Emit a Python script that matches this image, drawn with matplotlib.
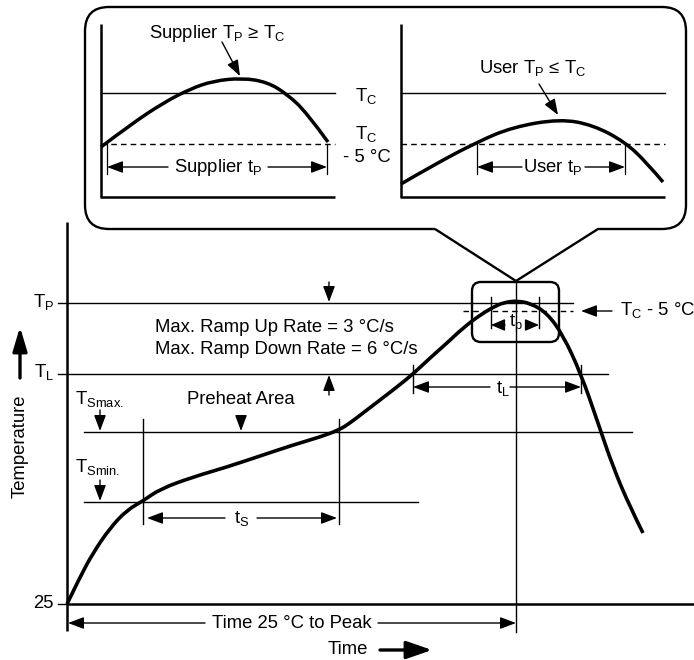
"""Reflow soldering profile diagram (classification temperature / peak)."""

import matplotlib.pyplot as plt
from matplotlib.path import Path
from matplotlib.patches import PathPatch, FancyBboxPatch

plt.rcParams['font.family'] = ['Liberation Sans', 'DejaVu Sans']
plt.rcParams['mathtext.fontset'] = 'custom'
plt.rcParams['mathtext.rm'] = 'Liberation Sans'
plt.rcParams['mathtext.default'] = 'regular'

# --- diagram data (canvas units, y grows downwards) ---
# main reflow profile
profile_t = [67, 80, 93, 110, 127, 143, 160, 193, 227, 260, 293, 320, 339, 350, 363, 397,
             413, 430, 447, 463, 480, 497, 507, 516, 530, 547, 563, 581, 597, 613, 630, 643]
profile_T = [604, 577, 553, 528, 510, 501, 489, 477, 467, 456, 445, 437, 430, 423, 413, 387,
             374, 358, 343, 328, 315, 305, 302, 301, 303, 313, 335, 374, 420, 467, 507, 533]

# levels of the main chart
T_25 = 604
T_P = 303
T_L = 374
TS_MAX = 432
TS_MIN = 502
TC_MINUS5 = 311
t_ts_start, t_ts_end = 143, 339
t_l_start, t_l_end = 413, 581
t_peak = 516
t_p_start, t_p_end = 491, 539

# inset curves (supplier / user)
supplier_t = [101, 130, 163, 190, 213, 242, 267, 287, 307, 328]
supplier_T = [147, 125, 103, 89, 81, 78, 82, 94, 113, 142]
user_t = [401, 430, 477, 513, 560, 593, 625, 647, 663]
user_T = [184, 167, 142, 127, 119, 125, 142, 163, 182]
inset_TC = 93
inset_TC5 = 144
inset_base = 197
supplier_tp = (107, 327)
user_tp = (477, 625)

FS = 13.3
K = 'black'


def arrow(ax, tail, head, lw=1.0, hl=0.8, hw=0.3):
    ax.annotate('', xy=head, xytext=tail,
                arrowprops=dict(arrowstyle=f'-|>,head_length={hl},head_width={hw}',
                                lw=lw, color=K, shrinkA=0, shrinkB=0, mutation_scale=12))


def dim_arrow(ax, x0, x1, y, gap0, gap1, lw=1.0):
    arrow(ax, (gap0, y), (x0, y), lw=lw)
    arrow(ax, (gap1, y), (x1, y), lw=lw)


def smooth_curve(ax, xs, ys, lw):
    """Quadratic B-spline path drawn through the read knots."""
    pts = list(zip(xs, ys))
    verts = [pts[0]]
    codes = [Path.MOVETO]
    for i in range(1, len(pts) - 1):
        nxt = pts[i + 1] if i == len(pts) - 2 else ((pts[i][0] + pts[i + 1][0]) / 2,
                                                     (pts[i][1] + pts[i + 1][1]) / 2)
        verts += [pts[i], nxt]
        codes += [Path.CURVE3, Path.CURVE3]
    ax.add_patch(PathPatch(Path(verts, codes), fc='none', ec=K, lw=lw, capstyle='butt'))


fig = plt.figure(figsize=(6.94, 6.6), dpi=100)
ax = fig.add_axes([0, 0, 1, 1])
ax.set_xlim(0, 694)
ax.set_ylim(660, 0)
ax.axis('off')

# ---------- callout bubble ----------
L, R, TOP, BOT, r = 85, 686, 7, 229, 24
verts = [(435, BOT), (L + r, BOT), (L, BOT), (L, BOT - r), (L, TOP + r), (L, TOP), (L + r, TOP),
         (R - r, TOP), (R, TOP), (R, TOP + r), (R, BOT - r), (R, BOT), (R - r, BOT),
         (598, BOT), (t_peak, 281), (435, BOT)]
codes = [Path.MOVETO, Path.LINETO, Path.CURVE3, Path.CURVE3, Path.LINETO, Path.CURVE3, Path.CURVE3,
         Path.LINETO, Path.CURVE3, Path.CURVE3, Path.LINETO, Path.CURVE3, Path.CURVE3,
         Path.LINETO, Path.LINETO, Path.LINETO]
ax.add_patch(PathPatch(Path(verts, codes), fc='none', ec=K, lw=1.7))

# inset axes
for x0, x1 in [(101, 335), (401, 665)]:
    ax.plot([x0, x0], [24, inset_base], color=K, lw=1.8, solid_capstyle='butt')
    ax.plot([x0 - 1, x1], [inset_base, inset_base], color=K, lw=1.8, solid_capstyle='butt')
    ax.plot([x0, x1], [inset_TC, inset_TC], color=K, lw=1.0)
    ax.plot([x0, x1], [inset_TC5, inset_TC5], color=K, lw=1.0, ls=(0, (4, 3)))

smooth_curve(ax, supplier_t, supplier_T, 2.5)
smooth_curve(ax, user_t, user_T, 2.5)

for (a, b) in [supplier_tp, user_tp]:
    for x in (a, b):
        ax.plot([x, x], [inset_TC5, 174], color=K, lw=0.9)
dim_arrow(ax, supplier_tp[0], supplier_tp[1], 167, 168, 268)
dim_arrow(ax, user_tp[0], user_tp[1], 167, 522, 585)
ax.text(218, 167, 'Supplier t$_P$', fontsize=FS, ha='center', va='center')
ax.text(553, 167, 'User t$_P$', fontsize=FS, ha='center', va='center')

ax.text(217, 34, 'Supplier T$_P$ ≥ T$_C$', fontsize=FS, ha='center', va='center')
arrow(ax, (222, 42), (240, 76))
ax.text(533, 68, 'User T$_P$ ≤ T$_C$', fontsize=FS, ha='center', va='center')
arrow(ax, (539, 84), (558, 115))

ax.text(366, 96, 'T$_C$', fontsize=FS, ha='center', va='center')
ax.text(366, 134, 'T$_C$', fontsize=FS, ha='center', va='center')
ax.text(367, 157, '- 5 °C', fontsize=FS, ha='center', va='center')

# ---------- main chart ----------
ax.plot([67, 67], [222, 631], color=K, lw=1.8, solid_capstyle='butt')
ax.plot([67, 694], [T_25, T_25], color=K, lw=1.8, solid_capstyle='butt')
ax.plot([58, 67], [T_25, T_25], color=K, lw=1.0)

ax.plot([58, 573], [T_P, T_P], color=K, lw=1.0)
ax.plot([58, 608], [T_L, T_L], color=K, lw=1.0)
ax.plot([84, 632], [TS_MAX, TS_MAX], color=K, lw=1.0)
ax.plot([84, 418], [TS_MIN, TS_MIN], color=K, lw=1.0)
ax.plot([463, 573], [TC_MINUS5, TC_MINUS5], color=K, lw=1.0, ls=(0, (4, 3)))

for x in (t_ts_start, t_ts_end):
    ax.plot([x, x], [419, 524], color=K, lw=1.0)
for x in (t_l_start, t_l_end):
    ax.plot([x, x], [365, 393], color=K, lw=1.0)
for x in (t_p_start, t_p_end):
    ax.plot([x, x], [297, 328], color=K, lw=1.0)
ax.plot([t_peak, t_peak], [281, 632], color=K, lw=1.0)

ax.add_patch(FancyBboxPatch((472, 282), 87, 60, boxstyle='round,pad=0,rounding_size=9',
                            fc='none', ec=K, lw=1.7))

smooth_curve(ax, profile_t, profile_T, 2.6)

# dimension arrows
dim_arrow(ax, t_ts_start + 4, t_ts_end - 2, 518, 225, 257)
ax.text(242, 519, 't$_S$', fontsize=FS, ha='center', va='center')
dim_arrow(ax, t_l_start, t_l_end, 387, 490, 510)
ax.text(503, 388, 't$_L$', fontsize=FS, ha='center', va='center')
arrow(ax, (505, 325), (t_p_start, 325), hl=0.7, hw=0.3)
arrow(ax, (527, 325), (t_p_end, 325), hl=0.7, hw=0.3)
ax.text(516, 324, 't$_p$', fontsize=FS, ha='center', va='center')
dim_arrow(ax, 68, t_peak, 623, 205, 378)
ax.text(292, 623, 'Time 25 °C to Peak', fontsize=FS, ha='center', va='center')

# level markers
arrow(ax, (329, 282), (329, T_P - 1))
arrow(ax, (329, 395), (329, T_L + 1))
arrow(ax, (100, 410), (100, TS_MAX - 1))
arrow(ax, (100, 480), (100, TS_MIN - 1))
arrow(ax, (241, 419), (241, TS_MAX - 1))
arrow(ax, (612, TC_MINUS5), (581, TC_MINUS5))

# labels
ax.text(54, 302, 'T$_P$', fontsize=FS, ha='right', va='center')
ax.text(54, 372, 'T$_L$', fontsize=FS, ha='right', va='center')
ax.text(54, 604, '25', fontsize=FS, ha='right', va='center')
ax.text(75, 399, 'T$_{Smax.}$', fontsize=FS, ha='left', va='center')
ax.text(75, 467, 'T$_{Smin.}$', fontsize=FS, ha='left', va='center')
ax.text(241, 400, 'Preheat Area', fontsize=FS, ha='center', va='center')
ax.text(155, 328, 'Max. Ramp Up Rate = 3 °C/s', fontsize=FS, ha='left', va='center')
ax.text(155, 350, 'Max. Ramp Down Rate = 6 °C/s', fontsize=FS, ha='left', va='center')
ax.text(620, 310, 'T$_C$ - 5 °C', fontsize=FS, ha='left', va='center')

# axis titles with arrows
ax.text(20, 446, 'Temperature', fontsize=FS, ha='center', va='center', rotation=90)
arrow(ax, (20, 378), (20, 327), lw=2.4, hl=1.2, hw=0.36)
ax.text(348, 650, 'Time', fontsize=FS, ha='center', va='center')
arrow(ax, (380, 650), (432, 650), lw=2.4, hl=1.3, hw=0.45)

fig.savefig('out.png', dpi=100)
